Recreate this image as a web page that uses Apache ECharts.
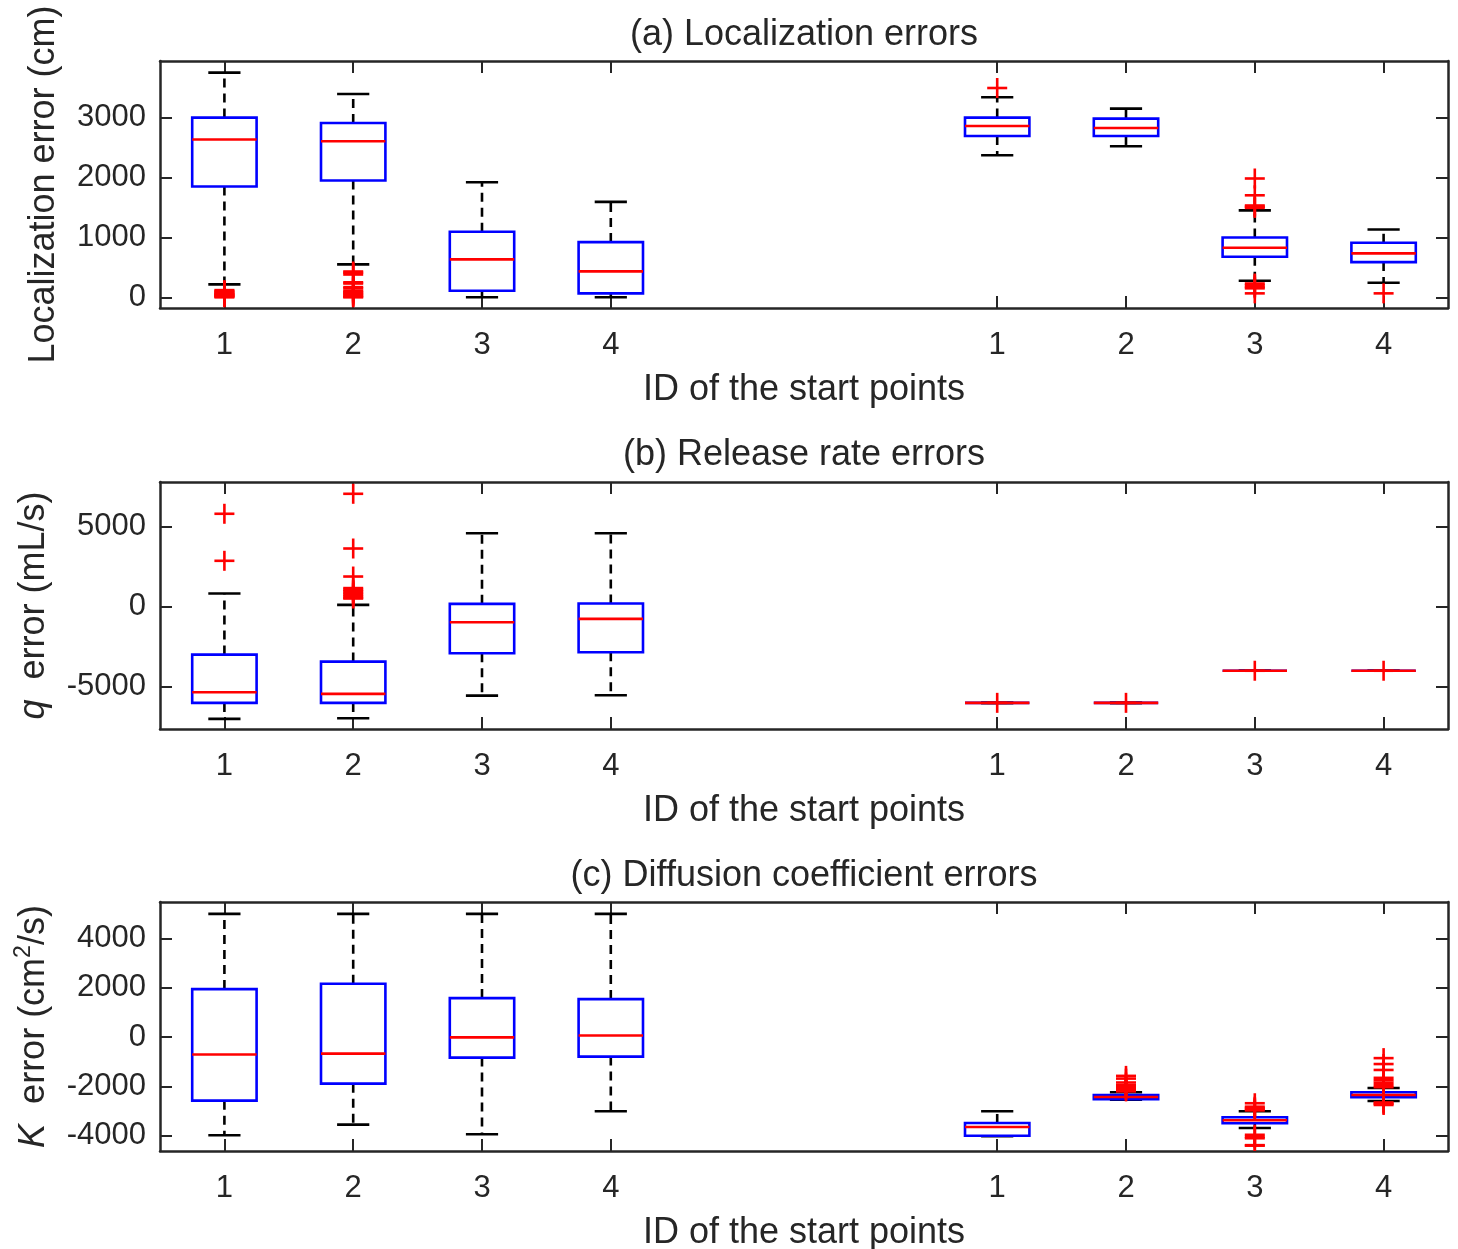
<!DOCTYPE html>
<html>
<head>
<meta charset="utf-8">
<script src="https://cdn.jsdelivr.net/npm/echarts@6/dist/echarts.min.js"></script>
<style>
html,body{margin:0;padding:0;background:#fff;}
#chart{width:1458px;height:1249px;}
</style>
</head>
<body>
<div id="chart"></div>
<script>
// ---------- data ----------
const xPositions = [1, 2, 3, 4, 7, 8, 9, 10];
const xTickLabels = ['1', '2', '3', '4', '1', '2', '3', '4'];

// (a) Localization errors (cm)
const locLower  = [216, 549, 0, 0, 2368, 2517, 277, 243];
const locQ1     = [1847, 1947, 110, 66, 2689, 2689, 676, 587];
const locMedian = [2629, 2600, 632, 432, 2855, 2822, 825, 732];
const locQ3     = [2995, 2905, 1092, 920, 2995, 2978, 998, 909];
const locUpper  = [3744, 3388, 1918, 1591, 3333, 3145, 1448, 1131];
const locOutliers = [
  [0, 10, 20, 30, 40, 50, 60, 75, 90, 105, 120],
  [0, 10, 30, 50, 70, 90, 110, 150, 170, 230, 250, 380, 410, 430],
  [],
  [],
  [3488],
  [],
  [1980, 1700, 1530, 1510, 1490, 230, 200, 170, 150, 66],
  [66]
];
const locTicks = [0, 1000, 2000, 3000];

// (b) Release rate errors (mL/s)
const qLower  = [-7000, -6963, -5549, -5530, -6000, -6000, -4000, -4000];
const qQ1     = [-6003, -6003, -2910, -2848, -6000, -6000, -4000, -4000];
const qMedian = [-5343, -5443, -978, -769, -6000, -6000, -4000, -4000];
const qQ3     = [-2993, -3429, 168, 190, -6000, -6000, -4000, -4000];
const qUpper  = [810, 106, 4570, 4570, -6000, -6000, -4000, -4000];
const qOutliers = [
  [5780, 2850],
  [7025, 3616, 1870, 1150, 1050, 950, 850, 750, 650, 550, 500],
  [],
  [],
  [-6000],
  [-6000],
  [-4000],
  [-4000]
];
const qTicks = [-5000, 0, 5000];

// (c) Diffusion coefficient errors (cm^2/s)
const kLower  = [-3980, -3549, -3939, -3005, -4020, -2534, -3684, -2587];
const kQ1     = [-2575, -1885, -828, -788, -3996, -2518, -3493, -2437];
const kMedian = [-706, -666, -10, 65, -3643, -2424, -3371, -2343];
const kQ3     = [1949, 2165, 1584, 1543, -3480, -2343, -3249, -2233];
const kUpper  = [5000, 5000, 5000, 5000, -3005, -2233, -3005, -2059];
const kOutliers = [
  [],
  [],
  [],
  [],
  [],
  [-1570, -1680, -1840, -1950, -2000, -2050, -2100, -2150, -2200],
  [-2680, -2820, -2870, -2920, -2970, -3960, -4050, -4100, -4380, -4400],
  [-850, -1090, -1330, -1650, -1750, -1850, -1950, -2030, -2650, -2700, -2750]
];
const kTicks = [-4000, -2000, 0, 2000, 4000];

// ---------- styling ----------
const FONT = "'Liberation Sans', Arial, Helvetica, sans-serif";
const AX = '#262626';
const TICK_FS = 31;
const LABEL_FS = 36;

const panels = [
  { title: '(a) Localization errors', top: 61, height: 247, yMin: -178, yMax: 3938, ticks: locTicks,
    name: 'Localization error (cm)', nameGap: 77,
    lower: locLower, q1: locQ1, med: locMedian, q3: locQ3, upper: locUpper, out: locOutliers },
  { title: '(b) Release rate errors', top: 482, height: 247, yMin: -7630, yMax: 7760, ticks: qTicks,
    name: '{i|q}  error (mL/s)', nameGap: 95,
    lower: qLower, q1: qQ1, med: qMedian, q3: qQ3, upper: qUpper, out: qOutliers },
  { title: '(c) Diffusion coefficient errors', top: 902, height: 249, yMin: -4617, yMax: 5482, ticks: kTicks,
    name: '{i|K}  error (cm{sup|2}/s)', nameGap: 97,
    lower: kLower, q1: kQ1, med: kMedian, q3: kQ3, upper: kUpper, out: kOutliers }
];

function boxRender(params, api) {
  const x = api.value(0);
  const pLo = api.coord([x, api.value(1)]);
  const pQ1 = api.coord([x, api.value(2)]);
  const pMed = api.coord([x, api.value(3)]);
  const pQ3 = api.coord([x, api.value(4)]);
  const pHi = api.coord([x, api.value(5)]);
  const cx = pMed[0];
  const hw = api.size([0.5, 0])[0] / 2;
  const cw = api.size([0.25, 0])[0] / 2;
  const blk = { stroke: '#000000', lineWidth: 2.6 };
  const dash = { stroke: '#000000', lineWidth: 2.6, lineDash: [9, 6] };
  const children = [];
  if (Math.abs(pHi[1] - pQ3[1]) > 0.5)
    children.push({ type: 'line', shape: { x1: cx, y1: pQ3[1], x2: cx, y2: pHi[1] }, style: dash });
  if (Math.abs(pLo[1] - pQ1[1]) > 0.5)
    children.push({ type: 'line', shape: { x1: cx, y1: pQ1[1], x2: cx, y2: pLo[1] }, style: dash });
  children.push({ type: 'line', shape: { x1: cx - cw, y1: pHi[1], x2: cx + cw, y2: pHi[1] }, style: blk });
  children.push({ type: 'line', shape: { x1: cx - cw, y1: pLo[1], x2: cx + cw, y2: pLo[1] }, style: blk });
  children.push({ type: 'rect', shape: { x: cx - hw, y: pQ3[1], width: 2 * hw, height: pQ1[1] - pQ3[1] },
    style: { fill: 'none', stroke: '#0000ff', lineWidth: 2.6 } });
  children.push({ type: 'line', shape: { x1: cx - hw, y1: pMed[1], x2: cx + hw, y2: pMed[1] },
    style: { stroke: '#ff0000', lineWidth: 2.6 } });
  return { type: 'group', children };
}

function outlierRender(params, api) {
  const p = api.coord([api.value(0), api.value(1)]);
  const s = 10;
  const st = { stroke: '#ff0000', lineWidth: 2.6 };
  return { type: 'group', children: [
    { type: 'line', shape: { x1: p[0] - s, y1: p[1], x2: p[0] + s, y2: p[1] }, style: st },
    { type: 'line', shape: { x1: p[0], y1: p[1] - s, x2: p[0], y2: p[1] + s }, style: st }
  ] };
}

const grid = [], xAxis = [], yAxis = [], series = [], title = [];
const titleCenters = [35, 455, 876];

panels.forEach((pn, i) => {
  grid.push({ left: 160, right: 10, top: pn.top, height: pn.height, containLabel: false, outerBoundsMode: 'none' });
  title.push({
    text: pn.title, left: 804, top: titleCenters[i] - 20, textAlign: 'center', padding: 0,
    textStyle: { fontFamily: FONT, fontSize: LABEL_FS, fontWeight: 'normal', color: AX, lineHeight: 40 }
  });
  const axisLine = { show: true, onZero: false, lineStyle: { color: AX, width: 2.5 } };
  xAxis.push({
    gridIndex: i, type: 'value', min: 0.5, max: 10.5, position: 'bottom',
    axisLine,
    axisTick: { show: true, inside: true, length: 12, customValues: xPositions, lineStyle: { color: AX, width: 2 } },
    axisLabel: {
      show: true, customValues: xPositions, margin: 20, color: AX, fontFamily: FONT, fontSize: TICK_FS, lineHeight: 34,
      formatter: v => { const k = xPositions.indexOf(Math.round(v)); return k >= 0 ? xTickLabels[k] : ''; }
    },
    splitLine: { show: false },
    name: 'ID of the start points', nameLocation: 'middle', nameGap: 62,
    nameTextStyle: { fontFamily: FONT, fontSize: LABEL_FS, color: AX, lineHeight: 40 }
  });
  xAxis.push({
    gridIndex: i, type: 'value', min: 0.5, max: 10.5, position: 'top',
    axisLine,
    axisTick: { show: true, inside: true, length: 12, customValues: xPositions, lineStyle: { color: AX, width: 2 } },
    axisLabel: { show: false },
    splitLine: { show: false }
  });
  yAxis.push({
    gridIndex: i, type: 'value', min: pn.yMin, max: pn.yMax, position: 'left',
    axisLine,
    axisTick: { show: true, inside: true, length: 12, customValues: pn.ticks, lineStyle: { color: AX, width: 2 } },
    axisLabel: { show: true, customValues: pn.ticks, margin: 14, color: AX, fontFamily: FONT, fontSize: TICK_FS,
      formatter: v => String(Math.round(v)) },
    splitLine: { show: false },
    name: pn.name, nameLocation: 'middle', nameGap: pn.nameGap, nameRotate: 90,
    nameTextStyle: {
      fontFamily: FONT, fontSize: LABEL_FS, color: AX, lineHeight: 44,
      rich: {
        i: { fontFamily: FONT, fontSize: LABEL_FS, fontStyle: 'italic', color: AX, lineHeight: 44 },
        sup: { fontFamily: FONT, fontSize: 23, color: AX, lineHeight: 24, verticalAlign: 'top' }
      }
    }
  });
  yAxis.push({
    gridIndex: i, type: 'value', min: pn.yMin, max: pn.yMax, position: 'right',
    axisLine,
    axisTick: { show: true, inside: true, length: 12, customValues: pn.ticks, lineStyle: { color: AX, width: 2 } },
    axisLabel: { show: false },
    splitLine: { show: false }
  });

  const boxData = xPositions.map((x, k) => [x, pn.lower[k], pn.q1[k], pn.med[k], pn.q3[k], pn.upper[k]]);
  const outData = [];
  xPositions.forEach((x, k) => pn.out[k].forEach(v => outData.push([x, v])));

  series.push({
    type: 'custom', name: 'box' + i, xAxisIndex: 2 * i, yAxisIndex: 2 * i,
    renderItem: boxRender, data: boxData, encode: { x: 0, y: [1, 2, 3, 4, 5] }, clip: true, silent: true
  });
  series.push({
    type: 'custom', name: 'outliers' + i, xAxisIndex: 2 * i, yAxisIndex: 2 * i,
    renderItem: outlierRender, data: outData, encode: { x: 0, y: 1 }, clip: true, silent: true
  });
});

const chart = echarts.init(document.getElementById('chart'), null, { renderer: 'canvas' });
chart.setOption({
  animation: false,
  backgroundColor: '#ffffff',
  textStyle: { fontFamily: FONT },
  title, grid, xAxis, yAxis, series
});
</script>
</body>
</html>
